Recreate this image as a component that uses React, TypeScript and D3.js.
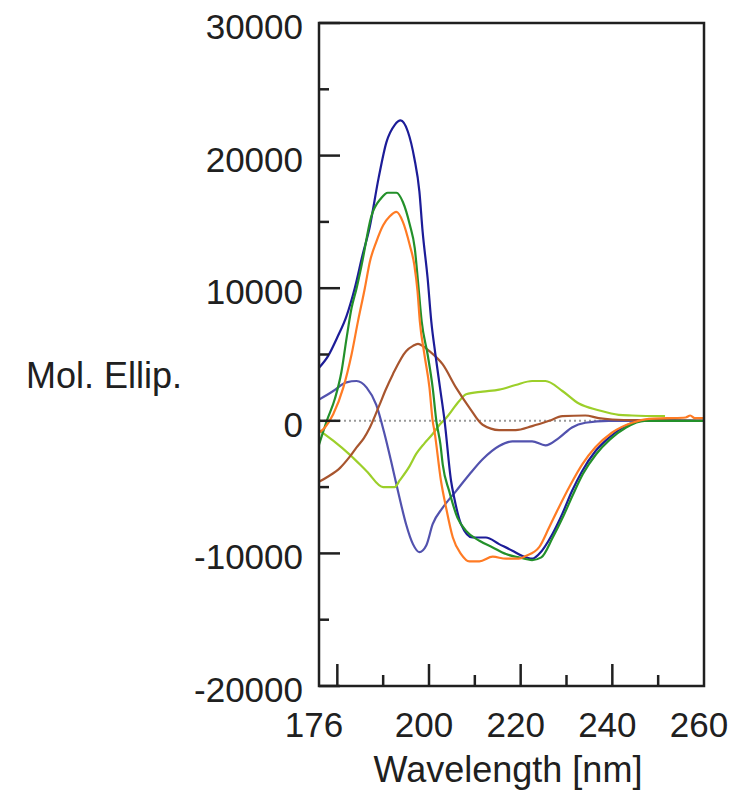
import { useEffect, useRef } from 'react';
import * as d3 from 'd3';

// wavelength [nm], molar ellipticity
const navy: [number, number][] = [
  [176, 4000], [178, 4900], [180, 6300], [182, 7900], [183.8, 10000], [185.5, 12500],
  [187, 14500], [189, 18300], [190.7, 21000], [192.5, 22300], [193.8, 22650], [195.4, 21800],
  [196.8, 19800], [197.9, 17300], [198.6, 14300], [199.7, 10750], [200.5, 7500], [201.4, 5000],
  [202.4, 2500], [203.4, 0], [204.8, -4500], [205.5, -5800], [207, -7800], [209.5, -8800],
  [212.4, -8800], [215.3, -9300], [218.2, -9800], [220.4, -10200], [222.5, -10400], [224, -10050],
  [226.9, -8550], [229.1, -7000], [231.2, -5300], [233.4, -3800], [236.3, -2300], [239.2, -1300],
  [242.8, -400], [246.4, 0], [250, 0], [260, 0],
];
const green: [number, number][] = [
  [176, -1800], [177.7, 0], [179.5, 1700], [180.9, 3700], [182, 6200], [183.1, 8500],
  [184.2, 10000], [185.3, 11750], [187.4, 15400], [189.6, 16800], [191, 17200], [192.9, 17200],
  [194.3, 16500], [195.8, 14800], [196.9, 13000], [197.6, 10500], [198.4, 7500], [199.7, 5000],
  [200.8, 2500], [201.6, 0], [202.5, -1800], [203, -3300], [204.4, -5300], [206.2, -7300],
  [208.1, -8300], [211, -9050], [213.9, -9550], [216.8, -10050], [219.6, -10300], [222.5, -10500],
  [224.5, -10300], [227, -8800], [229.3, -7200], [231.5, -5500], [233.6, -4000], [236.5, -2500],
  [239.5, -1400], [243, -500], [247, 0], [250, 0], [260, 0],
];
const orange: [number, number][] = [
  [176, -900], [177.3, -500], [179.1, 500], [181.3, 2500], [183.1, 5000], [184.5, 7500],
  [186, 10000], [187.1, 12000], [188.5, 13500], [190, 14750], [191.4, 15400], [192.9, 15750],
  [194.3, 15000], [195.8, 13250], [196.8, 11750], [197.5, 9750], [198, 7500], [199, 5000],
  [200.1, 2500], [200.8, 0], [201.2, -800], [202.6, -4500], [203.7, -6500], [205.2, -8800],
  [207, -10050], [208.8, -10600], [211, -10600], [213.9, -10250], [216.8, -10400], [219.6, -10400],
  [221.1, -10200], [224, -9550], [226.2, -8050], [228.3, -6550], [230.9, -4800], [233.4, -3300],
  [236.3, -2000], [239.9, -900], [244.3, -150], [248, 150], [252, 200], [256, 250], [257, 400],
  [258, 200], [260, 200],
];
const brown: [number, number][] = [
  [176, -4600], [178, -4200], [180.6, -3550], [182.5, -2800], [184.2, -2000], [185.8, -1300],
  [187.1, -500], [189.2, 1200], [190.5, 2300], [192.1, 3500], [195, 5250], [196.5, 5650],
  [197.6, 5800], [198.8, 5600], [200.1, 5250], [203, 4250], [205.9, 2500], [208.8, 1000],
  [211.7, -300], [215.3, -700], [218.9, -700], [222.5, -400], [226.2, 0], [229.1, 350],
  [234.1, 400], [237, 200], [240, 100], [245, 50], [250, 50], [260, 0],
];
const lime: [number, number][] = [
  [176, -700], [179.1, -1500], [182.7, -2550], [186.4, -3800], [190, -5000], [192.5, -5000],
  [193.6, -4500], [195.8, -3400], [197.2, -2500], [199, -1700], [200.8, -1000], [202.3, -300],
  [203.7, 200], [206.6, 1500], [208.1, 2000], [211.7, 2200], [215.3, 2350], [218.9, 2700],
  [222.5, 3000], [225.4, 3000], [229.1, 2250], [232.7, 1300], [237, 800], [241.4, 450],
  [244.3, 400], [251.5, 350],
];
const slate: [number, number][] = [
  [176, 1600], [179.1, 2250], [182, 2900], [184.2, 3000], [186.4, 2500], [188.5, 1200],
  [190.3, -1000], [191.7, -3000], [193.4, -5550], [195, -7800], [196.5, -9300], [197.9, -9900],
  [199.4, -9400], [200.8, -7800], [203, -6550], [205.9, -5300], [208.8, -4050], [211.7, -2900],
  [215.3, -1900], [218.2, -1550], [222.5, -1550], [225.4, -1850], [228.3, -1300], [231.2, -500],
  [234.1, -150], [239.2, 0], [250, 0], [260, 0],
];

const xMajor = [180, 200, 220, 240];
const xMinor = [190, 210, 230, 250];
const xLabels = [176, 200, 220, 240, 260];
const yMajor = [-20000, -10000, 0, 10000, 20000, 30000];
const yMinor = [-15000, -5000, 5000, 15000, 25000];

const App = () => {
  const ref = useRef<SVGSVGElement>(null);

  useEffect(() => {
    const svg = d3.select(ref.current);
    svg.selectAll('*').remove();

    const x = d3.scaleLinear().domain([176, 260]).range([319, 704]);
    const y = d3.scaleLinear().domain([-20000, 30000]).range([686, 23]);
    const font = '"Liberation Sans", Arial, sans-serif';
    const ink = '#202020';

    // zero line
    svg.append('line')
      .attr('x1', x(176)).attr('x2', x(260))
      .attr('y1', y(0)).attr('y2', y(0))
      .attr('stroke', '#9a9a9a').attr('stroke-width', 2)
      .attr('stroke-dasharray', '2 3');

    const line = d3.line<[number, number]>()
      .x(d => x(d[0]))
      .y(d => y(d[1]))
      .curve(d3.curveMonotoneX);

    const series: [[number, number][], string][] = [
      [slate, '#5252ae'],
      [lime, '#9ccf2a'],
      [brown, '#a8552e'],
      [navy, '#1c1c98'],
      [green, '#23902a'],
      [orange, '#ff7b24'],
    ];
    series.forEach(([data, color]) => {
      svg.append('path')
        .attr('d', line(data))
        .attr('fill', 'none')
        .attr('stroke', color)
        .attr('stroke-width', 2.2)
        .attr('stroke-linejoin', 'round');
    });

    // frame
    svg.append('rect')
      .attr('x', x(176)).attr('y', y(30000))
      .attr('width', x(260) - x(176)).attr('height', y(-20000) - y(30000))
      .attr('fill', 'none').attr('stroke', ink).attr('stroke-width', 2.5);

    // ticks, pointing inward
    const yTicks = svg.append('g').attr('stroke', ink).attr('stroke-width', 2.5);
    yMajor.forEach(v => yTicks.append('line')
      .attr('x1', x(176)).attr('x2', x(176) + 21).attr('y1', y(v)).attr('y2', y(v)));
    yMinor.forEach(v => yTicks.append('line')
      .attr('x1', x(176)).attr('x2', x(176) + 10).attr('y1', y(v)).attr('y2', y(v)));

    const xTicks = svg.append('g').attr('stroke', ink).attr('stroke-width', 2.5);
    xMajor.forEach(v => xTicks.append('line')
      .attr('x1', x(v)).attr('x2', x(v)).attr('y1', y(-20000)).attr('y2', y(-20000) - 22));
    xMinor.forEach(v => xTicks.append('line')
      .attr('x1', x(v)).attr('x2', x(v)).attr('y1', y(-20000)).attr('y2', y(-20000) - 11));

    // labels
    svg.append('g').selectAll('text')
      .data(yMajor).enter().append('text')
      .attr('x', 303).attr('y', d => y(d) + 16)
      .attr('text-anchor', 'end')
      .attr('font-family', font).attr('font-size', 35).attr('fill', ink)
      .text(d => d);

    svg.append('g').selectAll('text')
      .data(xLabels).enter().append('text')
      .attr('x', d => x(d) - 5).attr('y', 737)
      .attr('text-anchor', 'middle')
      .attr('font-family', font).attr('font-size', 35).attr('fill', ink)
      .text(d => d);

    svg.append('text')
      .attr('x', 104).attr('y', 388)
      .attr('text-anchor', 'middle')
      .attr('font-family', font).attr('font-size', 36).attr('fill', ink)
      .text('Mol. Ellip.');

    svg.append('text')
      .attr('x', 508).attr('y', 782)
      .attr('text-anchor', 'middle')
      .attr('font-family', font).attr('font-size', 36).attr('fill', ink)
      .text('Wavelength [nm]');
  }, []);

  return (
    <svg ref={ref} width={736} height={791}
      style={{ position: 'absolute', left: 0, top: 0, background: '#fff' }} />
  );
};

export default App;
